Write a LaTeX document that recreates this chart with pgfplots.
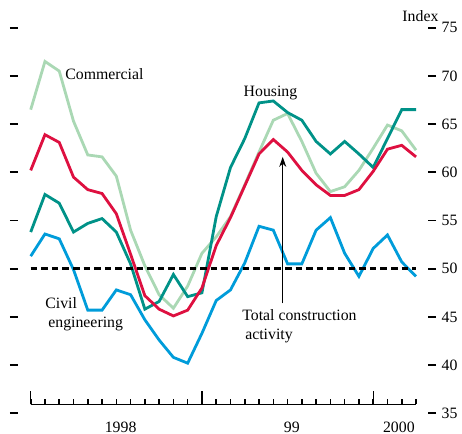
\documentclass[border=0pt]{standalone}
\usepackage{pgfplots}
\pgfplotsset{compat=1.18}
\usepackage{fontspec}
\setmainfont{Liberation Serif}
\usetikzlibrary{arrows.meta}

\definecolor{comm}{RGB}{170,216,180}
\definecolor{hous}{RGB}{0,146,136}
\definecolor{tot}{RGB}{222,16,64}
\definecolor{civ}{RGB}{0,156,218}

% months from Jan 1998 (0) to Apr 2000 (27)
\pgfplotstableread{
m  comm  hous  tot   civ
0  66.5  53.8  60.2  51.3
1  71.5  57.7  63.9  53.6
2  70.5  56.8  63.1  53.1
3  65.3  53.8  59.5  49.9
4  61.8  54.7  58.2  45.7
5  61.6  55.2  57.8  45.7
6  59.6  53.8  55.7  47.8
7  54.0  50.5  51.5  47.3
8  50.3  45.8  47.2  44.7
9  47.3  46.6  45.8  42.6
10 45.9  49.4  45.1  40.8
11 48.2  47.1  45.7  40.2
12 51.6  47.5  48.0  43.3
13 53.3  55.4  52.4  46.7
14 55.4  60.5  55.3  47.8
15 58.7  63.5  58.6  50.6
16 62.1  67.2  61.9  54.4
17 65.4  67.4  63.4  54.0
18 66.1  66.2  62.1  50.5
19 63.2  65.4  60.2  50.5
20 59.9  63.2  58.7  54.0
21 58.0  61.9  57.6  55.3
22 58.5  63.2  57.6  51.6
23 60.2  61.9  58.2  49.2
24 62.5  60.5  60.1  52.1
25 64.9  63.5  62.4  53.5
26 64.3  66.5  62.8  50.7
27 62.3  66.5  61.6  49.2
}\data

\begin{document}
\fontsize{7.9}{9.4}\selectfont
\begin{tikzpicture}
\path[use as bounding box] (-9pt,-10.35pt) rectangle (222pt,206.65pt);

\begin{axis}[
    at={(0,0)}, anchor=south west,
    scale only axis, width=205pt, height=192.8pt,
    xmin=-0.89, xmax=27.84, ymin=35, ymax=75,
    axis line style={draw=none},
    xtick=\empty,
    ytick={35,40,...,75},
    yticklabel pos=right, ytick pos=both,
    tick align=outside, major tick length=4pt,
    tick style={black, line width=0.9pt},
    /pgf/number format/assume math mode=true,
    clip=false,
    every axis plot/.append style={line width=1.4pt, no markers},
]
\addplot[comm] table[x=m, y=comm] {\data};
\addplot[hous] table[x=m, y=hous] {\data};
\addplot[tot] table[x=m, y=tot] {\data};
\addplot[civ] table[x=m, y=civ] {\data};
\addplot[black, dash pattern=on 3.3pt off 2pt] coordinates {(0,50) (27,50)};

\draw[line width=0.6pt, -{Stealth[length=5pt, width=3.5pt]}] (axis cs:17.66,46.4) -- (axis cs:17.66,61.6);

\node[anchor=west, inner sep=0pt] at (axis cs:2.4,70.2) {Commercial};
\node[anchor=west, inner sep=0pt] at (axis cs:14.9,68.2) {Housing};
\node[anchor=west, inner sep=0pt, align=left] at (axis cs:1.0,45.3) {Civil\\\hspace{1.5pt}engineering};
\node[anchor=west, inner sep=0pt, align=left] at (axis cs:14.8,44.0) {Total construction\\\hspace{1.5pt}activity};
\node[anchor=east, inner sep=0pt] at (axis cs:28.6,76.2) {Index};

% time axis: one tick a month, long ticks at the turn of the year
\draw[black, line width=0.75pt] (axis cs:0,35.93) -- (axis cs:27,35.93);
\pgfplotsinvokeforeach{0,...,27}{
  \draw[black, line width=0.8pt] (axis cs:#1,35.93) -- (axis cs:#1,36.45);
}
\pgfplotsinvokeforeach{0,12,24}{
  \draw[black, line width=0.6pt] (axis cs:#1,35.93) -- (axis cs:#1,37.3);
}
\node[anchor=north, inner sep=0pt, yshift=-8.8pt] at (axis cs:6.3,35.93) {1998};
\node[anchor=north, inner sep=0pt, yshift=-8.8pt] at (axis cs:18.3,35.93) {99};
\node[anchor=north, inner sep=0pt, yshift=-8.8pt] at (axis cs:25.8,35.93) {2000};
\end{axis}
\end{tikzpicture}
\end{document}
